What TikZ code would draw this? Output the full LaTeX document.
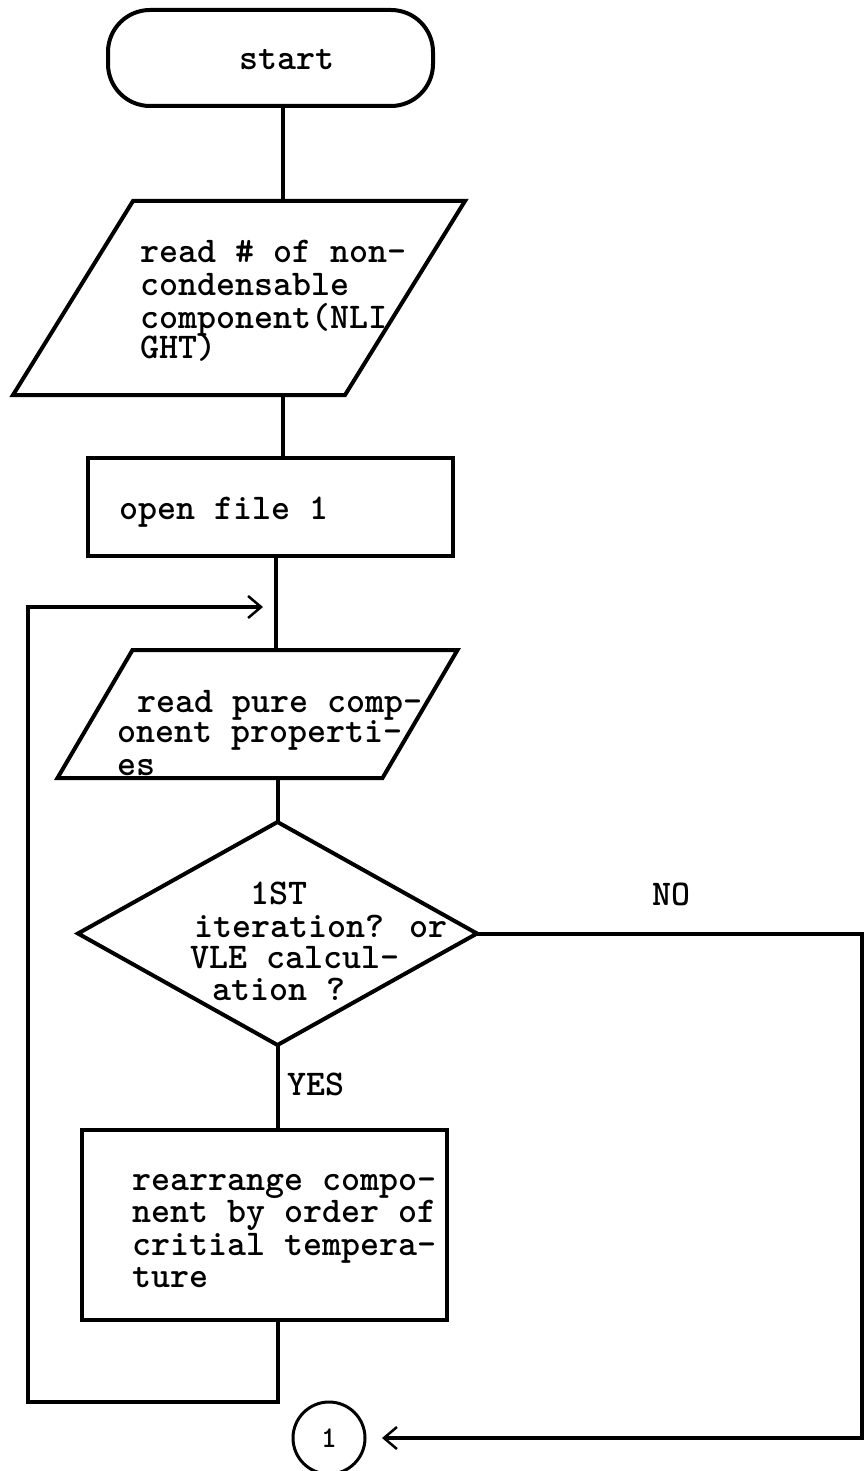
\documentclass[tikz,border=0pt]{standalone}
\usepackage{fontspec}
\usetikzlibrary{shapes.geometric,arrows.meta}
\begin{document}
\begin{tikzpicture}[x=1pt,y=-1pt,
  line width=4pt,
  shapebox/.style={draw, inner sep=0pt, outer sep=0pt, line width=4pt},
  frame/.style={rectangle, inner sep=0pt, outer sep=0pt},
  txt/.style={font=\ttfamily\bfseries\fontsize{36.2}{36}\selectfont, anchor=base west, inner sep=0pt},
  barb/.style={-{Straight Barb[length=13pt,width=22pt,line width=2.5pt]}}
]
\fill[white] (0,0) rectangle (865,1471);
\useasboundingbox (0,0) rectangle (865,1471);

% flowchart symbols
\node[shapebox, rectangle, rounded corners=42pt, minimum width=325pt, minimum height=96pt] (start) at (270.5,58) {};
% input/output symbols: parallelograms drawn on invisible frames
\node[frame, minimum width=452pt, minimum height=194pt] (in1) at (239,298) {};
\draw[line join=miter] ([xshift=120pt]in1.north west) -- (in1.north east)
  -- ([xshift=-120pt]in1.south east) -- (in1.south west) -- cycle;
\node[shapebox, rectangle, minimum width=365pt, minimum height=98pt] (open) at (270.5,507) {};
\node[frame, minimum width=400pt, minimum height=128pt] (in2) at (257.5,714) {};
\draw[line join=miter] ([xshift=75pt]in2.north west) -- (in2.north east)
  -- ([xshift=-75pt]in2.south east) -- (in2.south west) -- cycle;
\node[shapebox, diamond, minimum width=399pt, minimum height=223pt] (dec) at (277.5,933.5) {};
\node[shapebox, rectangle, minimum width=365pt, minimum height=190pt] (rear) at (264.5,1225) {};
\node[shapebox, circle, minimum size=72pt, line width=3pt,
      font=\ttfamily\bfseries\fontsize{30}{30}\selectfont] (conn) at (329,1438) {1};

% texts
\node[txt] (tstart) at (237,70) {start};
\node[txt] (ta1) at (138,262) {read \# of non-};
\node[txt] (ta2) at (138,295) {condensable};
\node[txt] (ta3) at (138,328) {component(NLI};
\node[txt] (ta4) at (138,358) {GHT)};
\node[txt] (tb1) at (117,519) {open file 1};
\node[txt] (tc1) at (135,712) {read pure comp-};
\node[txt] (tc2) at (115,742) {onent properti-};
\node[txt] (tc3) at (115,775) {es};
\node[txt] (td1) at (248,904) {1ST};
\node[txt] (td2) at (192,937) {iteration? or};
\node[txt] (td3) at (188,968) {VLE calcul-};
\node[txt] (td4) at (210,1000) {ation ?};
\node[txt] (te1) at (130,1190) {rearrange compo-};
\node[txt] (te2) at (130,1222) {nent by order of};
\node[txt] (te3) at (130,1255) {critial tempera-};
\node[txt] (te4) at (130,1287) {ture};
\node[txt] (yes) at (285,1095) {YES};
\node[txt] (no) at (650,905) {NO};

% connectors
\coordinate (sA) at (283,0);
\coordinate (sB) at (276,0);
\coordinate (lb) at (28,1402);
\coordinate (lt) at (28,607);
\coordinate (tip) at (263,607);
\coordinate (ne) at (862,0);

\draw (start.south -| sA) -- (in1.north -| sA);
\draw (in1.south -| sA) -- (open.north -| sA);
\draw (open.south -| sB) -- (in2.north -| sB);
\draw (in2.south -| dec.north) -- (dec.north);
\draw (dec.south) -- (rear.north -| dec.south);
\draw[barb] (rear.south -| dec.south) |- (lb) -- (lt) -- (tip);
\draw[barb] (dec.east) -- (dec.east -| ne) |- ([xshift=17pt]conn.east);
\end{tikzpicture}
\end{document}
